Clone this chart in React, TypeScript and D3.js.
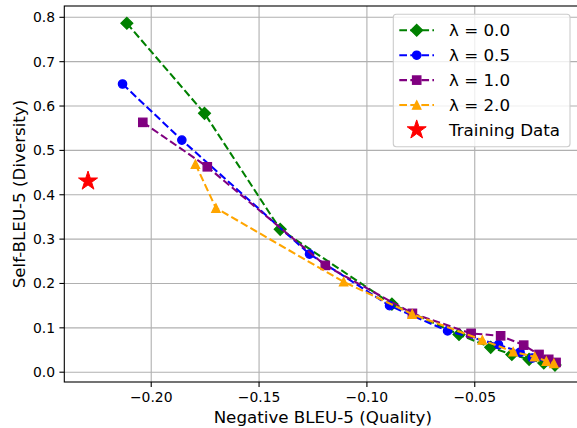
import React from "react";
import * as d3 from "d3";

const xTicks = [-0.2, -0.15, -0.1, -0.05];
const yTicks = [0.0, 0.1, 0.2, 0.3, 0.4, 0.5, 0.6, 0.7, 0.8];

const lam00x = [-0.2113, -0.1753, -0.1402, -0.0884, -0.0573, -0.0426, -0.0328, -0.0248, -0.018, -0.0128];
const lam00y = [0.7865, 0.5835, 0.322, 0.1535, 0.085, 0.056, 0.04, 0.029, 0.021, 0.016];
const lam05x = [-0.2133, -0.1858, -0.1266, -0.0895, -0.0626, -0.039, -0.029, -0.0233, -0.016];
const lam05y = [0.6496, 0.5233, 0.2663, 0.15, 0.093, 0.062, 0.045, 0.032, 0.024];
const lam10x = [-0.2039, -0.174, -0.1193, -0.0789, -0.0517, -0.038, -0.0273, -0.0202, -0.0157, -0.0123];
const lam10y = [0.5632, 0.463, 0.2408, 0.1326, 0.0875, 0.082, 0.061, 0.04, 0.029, 0.022];
const lam20x = [-0.1795, -0.17, -0.1108, -0.079, -0.0465, -0.0322, -0.0222, -0.0168, -0.0133];
const lam20y = [0.469, 0.37, 0.2038, 0.131, 0.0725, 0.046, 0.0347, 0.025, 0.0198];
const trainX = [-0.2293];
const trainY = [0.4308];

const seriesNames = ["λ = 0.0", "λ = 0.5", "λ = 1.0", "λ = 2.0"];
const seriesColors = ["green", "blue", "purple", "orange"];
const seriesMarkers = ["diamond", "circle", "square", "triangle"];
const seriesX = [lam00x, lam05x, lam10x, lam20x];
const seriesY = [lam00y, lam05y, lam10y, lam20y];

const W = 577;
const H = 428;
const L = 64.3;
const R = 581.3;
const T = 6;
const B = 382;

const x = d3.scaleLinear().domain([-0.2403, -0.0006]).range([L, R]);
const y = d3.scaleLinear().domain([-0.0221, 0.8255]).range([B, T]);

const FONT = "'DejaVu Sans', sans-serif";

function markerPath(kind: string): string {
  if (kind === "diamond") {
    return d3.symbol(d3.symbolDiamond2, 0)() as string;
  }
  return "";
}

function Marker({ kind, cx, cy, color }: { kind: string; cx: number; cy: number; color: string }) {
  const sw = 1.3;
  if (kind === "circle") {
    return <circle cx={cx} cy={cy} r={4.17} fill={color} stroke={color} strokeWidth={sw} />;
  }
  if (kind === "square") {
    const s = 8.33;
    return <rect x={cx - s / 2} y={cy - s / 2} width={s} height={s} fill={color} stroke={color} strokeWidth={sw} />;
  }
  if (kind === "diamond") {
    const h = 5.9;
    const p = `M${cx},${cy - h}L${cx + h},${cy}L${cx},${cy + h}L${cx - h},${cy}Z`;
    return <path d={p} fill={color} stroke={color} strokeWidth={sw} />;
  }
  if (kind === "triangle") {
    const h = 4.17;
    const p = `M${cx},${cy - h}L${cx + h},${cy + h}L${cx - h},${cy + h}Z`;
    return <path d={p} fill={color} stroke={color} strokeWidth={sw} />;
  }
  if (kind === "star") {
    const r = 10;
    const ri = r * 0.381966;
    const pts: string[] = [];
    for (let i = 0; i < 10; i++) {
      const rr = i % 2 === 0 ? r : ri;
      const a = (Math.PI / 5) * i;
      pts.push(`${cx + rr * Math.sin(a)},${cy - rr * Math.cos(a)}`);
    }
    return <path d={`M${pts.join("L")}Z`} fill={color} stroke={color} strokeWidth={1} />;
  }
  return null;
}

export default function App() {
  const line = d3
    .line<[number, number]>()
    .x((d) => x(d[0]))
    .y((d) => y(d[1]));

  const legendX = 393.3;
  const legendY = 14.3;
  const legendW = 176.7;
  const legendH = 132.4;
  const rowY = (i: number) => 30.3 + i * 24.9;

  return (
    <svg
      width={W}
      height={H}
      viewBox={`0 0 ${W} ${H}`}
      style={{ position: "absolute", left: 0, top: 0, background: "white" }}
      fontFamily={FONT}
    >
      <defs>
        <clipPath id="plotclip">
          <rect x={L} y={T} width={R - L} height={B - T} />
        </clipPath>
      </defs>
      <rect x={0} y={0} width={W} height={H} fill="white" />
      {/* grid */}
      <g stroke="#b0b0b0" strokeWidth={1.1}>
        {xTicks.map((t) => (
          <line key={"gx" + t} x1={x(t)} x2={x(t)} y1={T} y2={B} />
        ))}
        {yTicks.map((t) => (
          <line key={"gy" + t} x1={L} x2={R} y1={y(t)} y2={y(t)} />
        ))}
      </g>
      {/* series */}
      <g clipPath="url(#plotclip)">
        {seriesX.map((xs, si) => {
          const pts = xs.map((v, i) => [v, seriesY[si][i]] as [number, number]);
          return (
            <g key={"s" + si}>
              <path
                d={line(pts) as string}
                fill="none"
                stroke={seriesColors[si]}
                strokeWidth={2.08}
                strokeDasharray="7.7,3.33"
              />
              {pts.map((p, i) => (
                <Marker key={i} kind={seriesMarkers[si]} cx={x(p[0])} cy={y(p[1])} color={seriesColors[si]} />
              ))}
            </g>
          );
        })}
        {trainX.map((v, i) => (
          <Marker key={"t" + i} kind="star" cx={x(v)} cy={y(trainY[i])} color="red" />
        ))}
      </g>
      {/* spines */}
      <rect x={L} y={T} width={R - L} height={B - T} fill="none" stroke="black" strokeWidth={1.1} />
      {/* ticks */}
      <g stroke="black" strokeWidth={1.1}>
        {xTicks.map((t) => (
          <line key={"tx" + t} x1={x(t)} x2={x(t)} y1={B} y2={B + 4.9} />
        ))}
        {yTicks.map((t) => (
          <line key={"ty" + t} x1={L - 4.9} x2={L} y1={y(t)} y2={y(t)} />
        ))}
      </g>
      <g fontSize={13.9} fill="black">
        {xTicks.map((t) => (
          <text key={"lx" + t} x={x(t)} y={402} textAnchor="middle">
            {d3.format(".2f")(t).replace("-", "\u2212")}
          </text>
        ))}
        {yTicks.map((t) => (
          <text key={"ly" + t} x={55} y={y(t) + 5} textAnchor="end">
            {d3.format(".1f")(t)}
          </text>
        ))}
      </g>
      <text x={(L + R) / 2} y={423} textAnchor="middle" fontSize={16.7}>
        Negative BLEU-5 (Quality)
      </text>
      <text transform={`translate(25,${(T + B) / 2}) rotate(-90)`} textAnchor="middle" fontSize={16.7}>
        Self-BLEU-5 (Diversity)
      </text>
      {/* legend */}
      <rect
        x={legendX}
        y={legendY}
        width={legendW}
        height={legendH}
        rx={3}
        fill="white"
        fillOpacity={0.8}
        stroke="#cccccc"
        strokeWidth={1.1}
      />
      {seriesNames.map((name, i) => (
        <g key={"lg" + i}>
          <line
            x1={399.3}
            x2={434}
            y1={rowY(i)}
            y2={rowY(i)}
            stroke={seriesColors[i]}
            strokeWidth={2.08}
            strokeDasharray="7.7,3.33"
          />
          <Marker kind={seriesMarkers[i]} cx={416.7} cy={rowY(i)} color={seriesColors[i]} />
          <text x={449} y={rowY(i) + 6} fontSize={16.7}>
            {name}
          </text>
        </g>
      ))}
      <Marker kind="star" cx={416.7} cy={rowY(4)} color="red" />
      <text x={449} y={rowY(4) + 6} fontSize={16.7}>
        Training Data
      </text>
    </svg>
  );
}
